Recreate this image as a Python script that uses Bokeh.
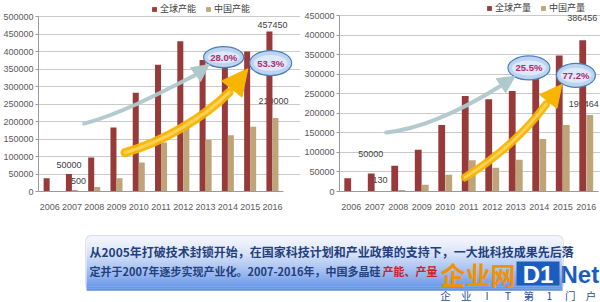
from bokeh.plotting import figure
from bokeh.layouts import column, row
from bokeh.models import (ColumnDataSource, Range1d, FixedTicker, NumeralTickFormatter,
                          Legend, LegendItem, Arrow, NormalHead, BoxAnnotation)
from bokeh.core.properties import value
from bokeh.embed import file_html
from bokeh.resources import INLINE

# ---------------- data ----------------
years = ["2006", "2007", "2008", "2009", "2010", "2011", "2012", "2013", "2014", "2015", "2016"]

cap_global = [38000, 50000, 97000, 183000, 282000, 362000, 429000, 376000, 385000, 400000, 457450]
cap_china = [1000, 4500, 12600, 38000, 83000, 140000, 188000, 148000, 161000, 185000, 210000]

prod_global = [34000, 46000, 66000, 107000, 170000, 244000, 236000, 257000, 300000, 348000, 386456]
prod_china = [300, 1130, 4000, 17000, 43000, 80000, 61000, 81000, 134000, 170000, 195464]

cap_ticks = [0, 50000, 100000, 150000, 200000, 250000, 300000, 350000, 400000, 450000, 500000]
prod_ticks = [0, 50000, 100000, 150000, 200000, 250000, 300000, 350000, 400000, 450000]

cap_series = ["全球产能", "中国产能"]
prod_series = ["全球产量", "中国产量"]

# value labels shown on the charts
cap_label_years = ["2007", "2007", "2016", "2016"]
cap_label_vals = [50000, 4500, 457450, 210000]
cap_label_text = ["50000", "4500", "457450", "210000"]
prod_label_years = ["2007", "2007", "2016", "2016"]
prod_label_vals = [46000, 1130, 386456, 195464]
prod_label_text = ["50000", "1130", "386456", "195464"]

# growth-rate bubbles
cap_pct = ["28.0%", "53.3%"]
prod_pct = ["25.5%", "77.2%"]

note_line1 = "从2005年打破技术封锁开始，在国家科技计划和产业政策的支持下，一大批科技成果先后落"
note_line2a = "定并于2007年逐步实现产业化。2007-2016年，中国多晶硅"
note_line2b = "产能、产量"

RED = "#983A3A"
TAN = "#BFA47A"
GRAY_ARROW = "#AFC8CB"
YELLOW = "#F7B500"
YELLOW_HI = "#FFD45E"
CJK = "Noto Sans CJK SC"
LAT = "Liberation Sans"


def make_chart(vals_g, vals_c, ticks, ymax, yend, xend, names, lab_years, lab_vals, lab_text,
               lab_offsets, pct, bubbles, arrows, border_left, legend_xy, bar_w, dodge_off):
    # category i is centred on x = i; the axis spans -0.5 .. n-0.5
    n = len(years)
    xc = list(range(n))
    pos = {yr: i for i, yr in enumerate(years)}

    p = figure(width=300, height=215, x_range=Range1d(-0.5, xend - 0.5), y_range=Range1d(0, yend),
               output_backend="svg", toolbar_location=None,
               min_border_left=border_left, min_border_right=0,
               min_border_top=0, min_border_bottom=24)
    p.outline_line_color = None
    p.background_fill_color = "white"
    p.border_fill_color = "white"

    src = ColumnDataSource(dict(xg=[x - dodge_off for x in xc], xc=[x + dodge_off for x in xc],
                                g=vals_g, c=vals_c))

    # value labels (drawn beneath the bars, as in the reference)
    for yr, v, t, (dx, dy) in zip(lab_years, lab_vals, lab_text, lab_offsets):
        p.text(x=[pos[yr]], y=[v], text=[t], x_offset=dx, y_offset=dy,
               text_font=value(LAT), text_font_size="9px", text_color="#404040",
               text_align="center", text_baseline="middle")

    r1 = p.vbar(x="xg", top="g", width=bar_w, source=src, fill_color=RED, line_color=None)
    r2 = p.vbar(x="xc", top="c", width=bar_w, source=src, fill_color=TAN, line_color=None)

    # curved arrows (coordinates given with 0 at the left edge of the first category)
    for (x0, y0, cx0, cy0, cx1, cy1, x1, y1, tx, ty, col, lw, hs) in arrows:
        x0, cx0, cx1, x1, tx = x0 - 0.5, cx0 - 0.5, cx1 - 0.5, x1 - 0.5, tx - 0.5
        p.bezier(x0=[x0], y0=[y0], cx0=[cx0], cy0=[cy0], cx1=[cx1], cy1=[cy1], x1=[x1], y1=[y1],
                 line_color=col, line_width=lw, line_cap="round", line_alpha=0.95)
        if col == YELLOW:
            p.bezier(x0=[x0], y0=[y0], cx0=[cx0], cy0=[cy0], cx1=[cx1], cy1=[cy1], x1=[x1], y1=[y1],
                     line_color=YELLOW_HI, line_width=lw * 0.35, line_cap="round", line_alpha=0.9)
        p.add_layout(Arrow(end=NormalHead(size=hs, fill_color=col, line_color=col, line_width=1),
                           x_start=x1, y_start=y1, x_end=tx, y_end=ty, line_alpha=0))

    # bubbles
    for (bx, by, bw, bh), t in zip(bubbles, pct):
        bx = bx - 0.5
        p.ellipse(x=[bx], y=[by], width=bw, height=bh, width_units="screen", height_units="screen",
                  fill_color="#BCD4EF", line_color="#4A7EBB", line_width=1.2)
        p.ellipse(x=[bx], y=[by], width=bw - 8, height=bh - 9, width_units="screen",
                  height_units="screen", fill_color="#E3EEFA", line_color=None, fill_alpha=0.8)
        p.text(x=[bx], y=[by], text=[t], text_font=value(LAT), text_font_size="9.5px",
               text_font_style="bold", text_color="#B0286E", text_align="center",
               text_baseline="middle")

    # axes
    p.yaxis.ticker = FixedTicker(ticks=ticks)
    p.yaxis.bounds = (0, ymax)
    p.yaxis.formatter = NumeralTickFormatter(format="0")
    p.yaxis.major_label_text_font = LAT
    p.yaxis.major_label_text_font_size = "9px"
    p.yaxis.major_label_text_color = "#595959"
    p.yaxis.axis_line_color = "#9A9A9A"
    p.yaxis.major_tick_line_color = "#9A9A9A"
    p.yaxis.major_tick_out = 3
    p.yaxis.major_tick_in = 0
    p.yaxis.minor_tick_line_color = None
    p.yaxis.major_label_standoff = 2

    p.xaxis.ticker = FixedTicker(ticks=xc)
    p.xaxis.major_label_overrides = {i: yr for i, yr in enumerate(years)}
    p.xaxis.bounds = (-0.5, n - 0.5)
    p.xaxis.major_label_text_font = LAT
    p.xaxis.major_label_text_font_size = "9px"
    p.xaxis.major_label_text_color = "#595959"
    p.xaxis.axis_line_color = "#9A9A9A"
    p.xaxis.major_tick_line_color = None
    p.xaxis.minor_tick_line_color = None
    p.xaxis.major_label_standoff = 6

    p.xgrid.grid_line_color = None
    p.ygrid.ticker = FixedTicker(ticks=ticks)
    p.ygrid.bounds = (-0.5, n - 0.5)
    p.ygrid.grid_line_color = "#CACACA"

    legend = Legend(items=[LegendItem(label=names[0], renderers=[r1]),
                           LegendItem(label=names[1], renderers=[r2])],
                    orientation="horizontal", location=legend_xy,
                    padding=0, margin=0, spacing=9, glyph_width=6, glyph_height=6,
                    label_standoff=3, label_height=10, label_width=10,
                    label_text_font=CJK, label_text_font_size="9px", label_text_color="#404040",
                    border_line_color=None, background_fill_alpha=0)
    p.add_layout(legend)
    return p


p1 = make_chart(
    cap_global, cap_china, cap_ticks, 500000, 500000 * 191 / 175, 264 / 22.45, cap_series,
    cap_label_years, cap_label_vals, cap_label_text,
    [(-3, -9.5), (4, -8.5), (0, -6), (1, -17.5)],
    cap_pct,
    [(8.31, 383700, 40, 21), (10.42, 367000, 42, 25)],
    [(2.05, 194000, 3.74, 223000, 5.52, 283000, 6.99, 331000, 7.66, 363000, GRAY_ARROW, 4, 17),
     (3.88, 111000, 5.52, 140000, 7.44, 211000, 8.55, 283000, 9.40, 351000, YELLOW, 9, 26)],
    36, (113, 176), 0.27, 0.135)

p2 = make_chart(
    prod_global, prod_china, prod_ticks, 450000, 450000 * 191 / 176, 261 / 23.5, prod_series,
    prod_label_years, prod_label_vals, prod_label_text,
    [(-4, -20), (3, -11), (-4, -22.5), (-2.5, -11.5)],
    prod_pct,
    [(8.06, 316000, 42, 24), (10.06, 297000, 39, 24)],
    [(1.98, 151000, 3.64, 161000, 5.34, 213000, 6.83, 269000, 7.47, 294600, GRAY_ARROW, 4, 17),
     (5.34, 36000, 6.49, 79000, 7.77, 141000, 8.79, 223000, 9.47, 274000, YELLOW, 8, 22)],
    39, (147, 177), 0.29, 0.15)

# ---------------- bottom note box ----------------
p3 = figure(width=600, height=87, x_range=Range1d(0, 600), y_range=Range1d(302, 215),
            output_backend="svg", toolbar_location=None, min_border=0)
p3.axis.visible = False
p3.grid.grid_line_color = None
p3.outline_line_color = None

box_l, box_r, box_t, box_b = 85, 563, 235, 290
nstrip = 28
h = (box_b - box_t) / nstrip
tops, bots, cols = [], [], []
for i in range(nstrip):
    f = (i / (nstrip - 1)) ** 1.4
    r = int(242 + (98 - 242) * f)
    g = int(245 + (146 - 245) * f)
    b = int(252 + (232 - 252) * f)
    tops.append(box_t + i * h)
    bots.append(box_t + (i + 1) * h + 0.3)
    cols.append("#%02x%02x%02x" % (r, g, b))
p3.quad(left=box_l + 1, right=box_r - 1, top=tops, bottom=bots, fill_color=cols, line_color=None)
p3.add_layout(BoxAnnotation(left=box_l, right=box_r, top=box_t, bottom=box_b, fill_alpha=0,
                            line_color="#9A9A9A", line_width=1, border_radius=6))

p3.text(x=[89], y=[251], text=[note_line1], text_font=value(CJK), text_font_size="12px",
        text_font_style="bold", text_color="#23407A", text_align="left", text_baseline="middle")
p3.text(x=[89], y=[270], text=[note_line2a], text_font=value(CJK), text_font_size="11px",
        text_font_style="bold", text_color="#23407A", text_align="left", text_baseline="middle")
p3.text(x=[382], y=[270], text=[note_line2b], text_font=value(CJK), text_font_size="11px",
        text_font_style="bold", text_color="#D0202A", text_align="left", text_baseline="middle")

# watermark logo
p3.text(x=[440], y=[273], text=["企业网"], text_font=value(CJK), text_font_size="25px",
        text_font_style="bold", text_color="#F39200", text_align="left", text_baseline="middle")
p3.quad(left=[516], right=[559], top=[261], bottom=[285], fill_color="#1B5DBF", line_color=None)
p3.text(x=[537.5], y=[273.5], text=["D1"], text_font=value(LAT), text_font_size="24px",
        text_font_style="bold", text_color="white", text_align="center", text_baseline="middle")
p3.text(x=[560], y=[273.5], text=["Net"], text_font=value(LAT), text_font_size="24px",
        text_font_style="bold", text_color="#1B5DBF", text_align="left", text_baseline="middle")
slogan = ["企", "业", "I", "T", "第", "1", "门", "户"]
for i, ch in enumerate(slogan):
    p3.text(x=[445 + i * 20.8], y=[295], text=[ch], text_font=value(CJK), text_font_size="10.5px",
            text_color="#1F4E9A", text_align="center", text_baseline="middle")

layout = column(row(p1, p2, spacing=0), p3, spacing=0)
open("out.html", "w").write(file_html(layout, INLINE))
